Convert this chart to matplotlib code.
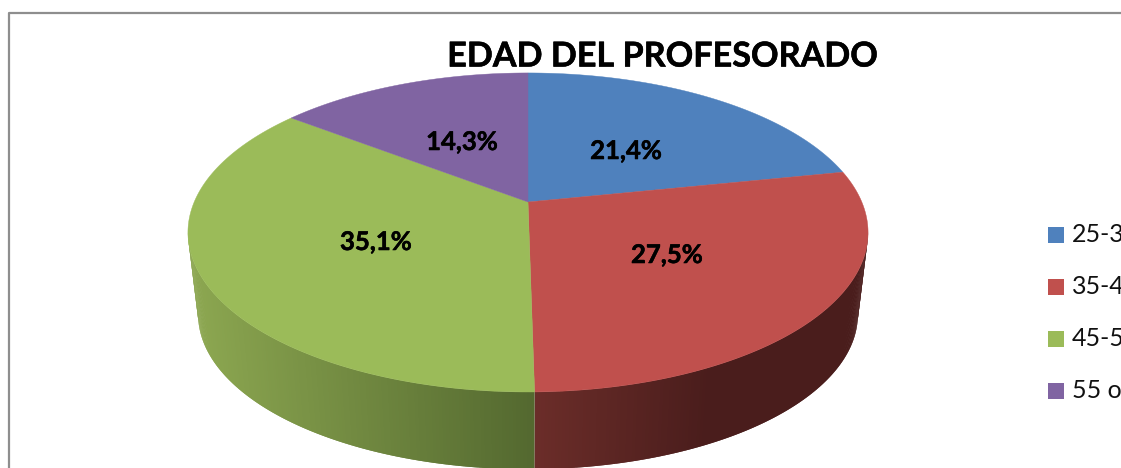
import numpy as np
import matplotlib
matplotlib.use("Agg")
import matplotlib.pyplot as plt
import matplotlib.patheffects as pe
from matplotlib.patches import Rectangle

title = "EDAD DEL PROFESORADO"
categories = ["25-34", "35-44", "45-54", "55 o más"]
percents = [21.4, 27.5, 35.1, 14.3]
colors = ["#4F81BD", "#C0504D", "#9BBB59", "#8064A2"]

# wall shading, left colour -> right colour, only red and green show
wallColors = {1: ("#6B2D29", "#4A1D1C"), 2: ("#8DA851", "#53682F")}

plt.rcParams["font.family"] = ["Lato", "DejaVu Sans"]


def project(theta, scale=1.0, drop=0.0):
	# perspective of the round pie, apex is not the middle of the ellipse
	k = 0.191
	u = np.sin(theta)
	v = np.cos(theta)
	w = 1 + k * v
	x = 528 + 333.8 * scale * u / w
	y = 202 + drop - 153.7 * scale * v / w
	return x, y


def mix(c1, c2, t):
	a = np.array(matplotlib.colors.to_rgb(c1))
	b = np.array(matplotlib.colors.to_rgb(c2))
	return a + (b - a) * t


def drawWalls(ax, edges):
	visibleFrom = np.arccos(-0.191)
	visibleTo = 2 * np.pi - visibleFrom
	for i in wallColors:
		start = max(edges[i], visibleFrom)
		end = min(edges[i + 1], visibleTo)
		thetas = np.linspace(start, end, 160)
		for j in range(len(thetas) - 2):
			# strips overlap the next one so no seams show
			x1, y1 = project(thetas[j:j + 3])
			x2, y2 = project(thetas[j:j + 3], 0.97, 83)
			px = np.concatenate([x1, x2[::-1]])
			py = np.concatenate([y1, y2[::-1]])
			if i == 1:
				t = min((px.mean() - 535) / 170, 1)
			else:
				t = (px.mean() - 190) / 345
			col = mix(wallColors[i][0], wallColors[i][1], t)
			ax.fill(px, py, color=col, lw=0, zorder=2)


def drawTop(ax, edges):
	for i in range(len(percents)):
		thetas = np.linspace(edges[i], edges[i + 1], 200)
		x, y = project(thetas)
		ax.fill(np.append(x, 528), np.append(y, 202), color=colors[i], lw=0.3, zorder=3)


def main():
	fig = plt.figure(figsize=(11.21, 4.68), dpi=100)
	ax = fig.add_axes([0, 0, 1, 1])
	ax.set_xlim(0, 1121)
	ax.set_ylim(468, 0)
	ax.axis("off")

	# chart border, runs off the picture right and bottom
	ax.plot([9, 9, 1125], [472, 13, 13], color="#8E8E8E", lw=1.6, zorder=1)

	total = sum(percents)
	edges = np.concatenate([[0], np.cumsum(percents)]) / total * 2 * np.pi
	drawWalls(ax, edges)
	drawTop(ax, edges)

	# Lato bold is a bit lighter than the original, thicken it
	thick = [pe.withStroke(linewidth=0.4, foreground="black")]

	ax.text(662, 56.5, title, fontsize=24.6, fontweight="bold", ha="center", va="center",
		zorder=5, path_effects=thick)

	labelPos = [(626, 151), (667, 255), (376, 242), (462, 142)]
	for i in range(len(percents)):
		label = ("%.1f%%" % percents[i]).replace(".", ",")
		ax.text(labelPos[i][0], labelPos[i][1], label, fontsize=18.5, fontweight="bold",
			ha="center", va="center", zorder=5, path_effects=thick)

	for i in range(len(categories)):
		yc = 235 + 52 * i
		ax.add_patch(Rectangle((1048, yc - 8), 16, 16, color=colors[i], lw=0, zorder=5))
		ax.text(1072, yc, categories[i], fontsize=18, ha="left", va="center", zorder=5, color="#111111")

	fig.savefig("out.png", dpi=100)


if __name__ == "__main__":
	main()
